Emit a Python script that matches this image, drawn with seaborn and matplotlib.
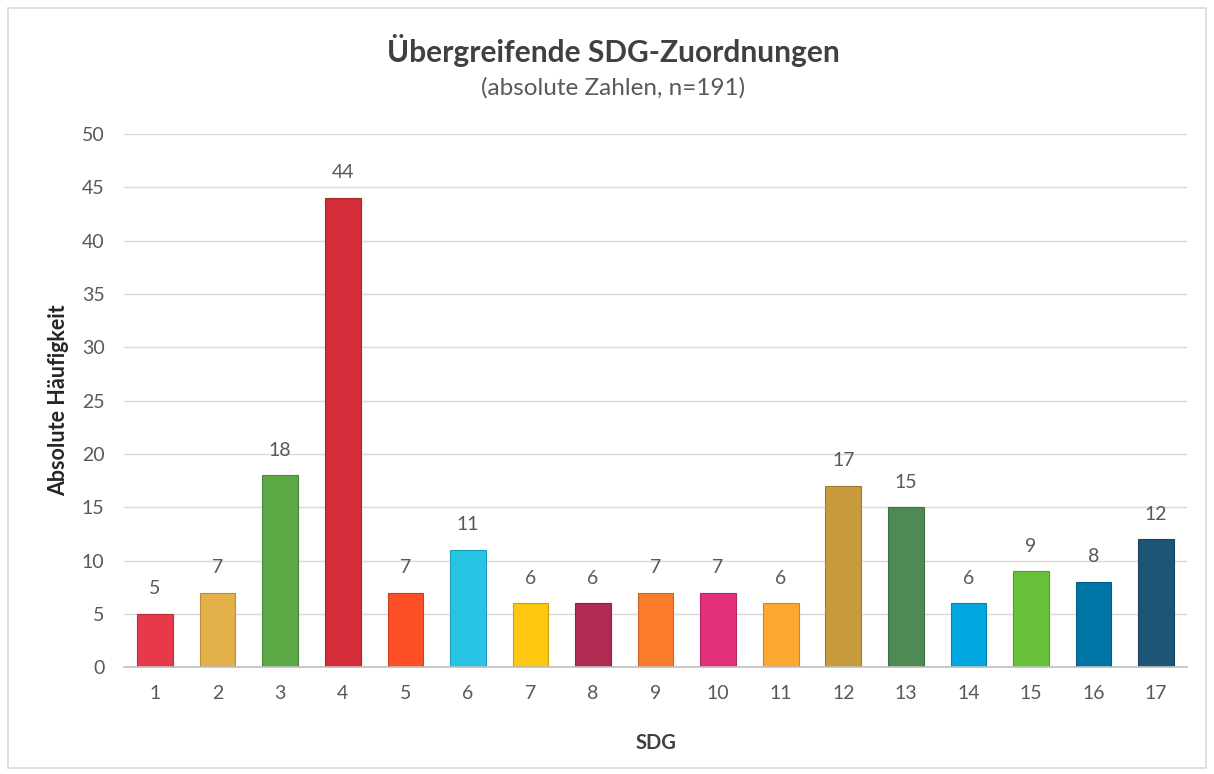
import matplotlib
matplotlib.use("Agg")
import matplotlib.pyplot as plt
import seaborn as sns
import pandas as pd
from matplotlib.patches import Rectangle
from matplotlib.colors import to_rgb

# SDG categories and their counts
sdg = [str(i) for i in range(1, 18)]
counts = [5, 7, 18, 44, 7, 11, 6, 6, 7, 7, 6, 17, 15, 6, 9, 8, 12]
sdg_colors = ["#E63A4B", "#E3B04A", "#5BA945", "#D42D39", "#FD4E26", "#27C4E6",
              "#FDC80F", "#B02A52", "#FD7B2D", "#E3307A", "#FDA830", "#C99A3C",
              "#4E8A53", "#00A6DE", "#67C23A", "#0076A6", "#1D5577"]
y_ticks = list(range(0, 51, 5))

title = "Übergreifende SDG-Zuordnungen"
subtitle = "(absolute Zahlen, n=191)"
x_label = "SDG"
y_label = "Absolute Häufigkeit"

sns.set_theme(style="white")
plt.rcParams["font.family"] = ["Lato", "DejaVu Sans"]

text_col = "#595959"
df = pd.DataFrame({"SDG": sdg, "Anzahl": counts})

fig = plt.figure(figsize=(12.14, 7.74), dpi=100)
ax = fig.add_axes([0.102, 0.138, 0.876, 0.689])

sns.barplot(data=df, x="SDG", y="Anzahl", hue="SDG", palette=sdg_colors,
            order=sdg, hue_order=sdg, legend=False, width=0.57,
            saturation=1, ax=ax, zorder=3)

# slightly darker outline on each bar
for patch in ax.patches:
    r, g, b = to_rgb(patch.get_facecolor())
    patch.set_edgecolor((r * 0.8, g * 0.8, b * 0.8))
    patch.set_linewidth(0.8)

ax.set_ylim(0, 50)
ax.set_yticks(y_ticks)
ax.set_xlim(-0.5, len(sdg) - 0.5)
ax.grid(axis="y", color="#D9D9D9", linewidth=1.0, zorder=0)
ax.set_axisbelow(True)
for s in ["top", "right", "left"]:
    ax.spines[s].set_visible(False)
ax.spines["bottom"].set_color("#BFBFBF")
ax.spines["bottom"].set_linewidth(1.2)
ax.spines["bottom"].set_zorder(4)
ax.tick_params(axis="both", length=0, labelsize=14, labelcolor=text_col)
ax.tick_params(axis="x", pad=13)
ax.tick_params(axis="y", pad=14)

ax.set_xlabel(x_label, fontsize=14.5, fontweight="bold", color="#404040", labelpad=22)
ax.set_ylabel(y_label, fontsize=15.5, fontweight="bold", color="#262626", labelpad=9)

for container in ax.containers:
    ax.bar_label(container, padding=12, fontsize=14, color=text_col)

fig.text(0.505, 0.935, title, ha="center", va="center", fontsize=21.5,
         fontweight="bold", color="#404040")
fig.text(0.505, 0.886, subtitle, ha="center", va="center", fontsize=17.5,
         color=text_col)

fig.patches.append(Rectangle((0.007, 0.008), 0.986, 0.982, transform=fig.transFigure,
                             fill=False, edgecolor="#D9D9D9", linewidth=1.2))

fig.savefig("out.png", dpi=100, facecolor="white")
